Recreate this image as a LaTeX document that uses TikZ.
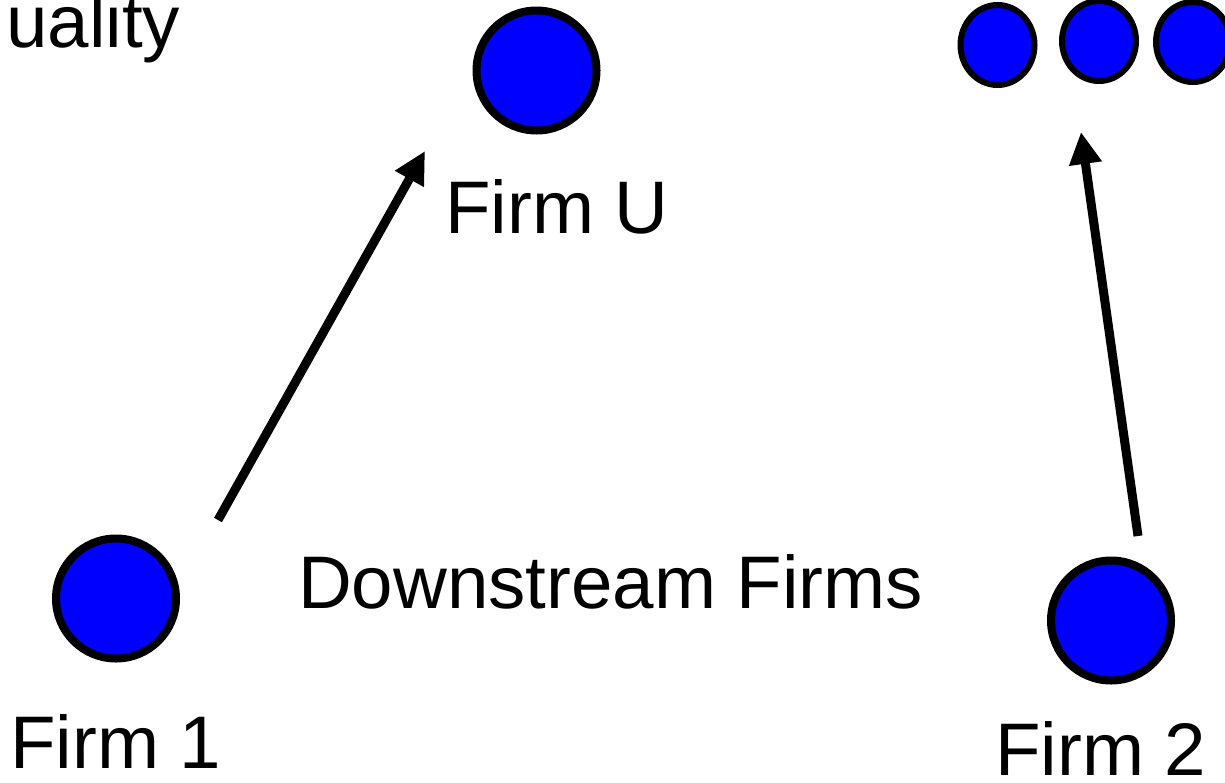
\documentclass[tikz,border=0pt]{standalone}
\usepackage{fontspec}
\setmainfont{Liberation Sans}
\usetikzlibrary{arrows.meta,shapes.geometric}
\definecolor{firmblue}{RGB}{0,0,255}
\begin{document}
\begin{tikzpicture}[x=1pt,y=-1pt,
  firm/.style={circle,draw=black,fill=firmblue,line width=8pt,inner sep=0pt,minimum size=120pt},
  rival/.style={ellipse,draw=black,fill=firmblue,line width=6pt,inner sep=0pt,minimum width=74pt,minimum height=80pt},
  lbl/.style={anchor=base west,inner sep=0pt,font=\fontsize{74.5}{88}\selectfont},
  link/.style={line width=9pt,-{Triangle[length=32pt,width=31pt]}}]
  \useasboundingbox (0,0) rectangle (1225,782);
  % firms
  \node[firm] (u) at (536.5,70.5) {};
  \node[firm] (f1) at (116,598.5) {};
  \node[firm] (f2) at (1111,620.5) {};
  % competing upstream suppliers
  \node[rival] (r1) at (997.5,45) {};
  \node[rival] (r2) at (1099,41) {};
  \node[rival] (r3) at (1193,42) {};
  % labels
  \node[lbl] (tq) at (6,47) {uality};
  \node[lbl] (tu) at (445,233) {Firm U};
  \node[lbl] (td) at (298,608) {Downstream Firms};
  \node[lbl] (t1) at (10,768) {Firm 1};
  \node[lbl] (t2) at (995,775) {Firm 2};
  % supply links
  \coordinate (a1s) at (218,520);
  \coordinate (a1e) at (425,151);
  \coordinate (a2s) at (1138,536);
  \coordinate (a2e) at (1081,132);
  \draw[link] (a1s) -- (a1e);
  \draw[link] (a2s) -- (a2e);
\end{tikzpicture}
\end{document}
